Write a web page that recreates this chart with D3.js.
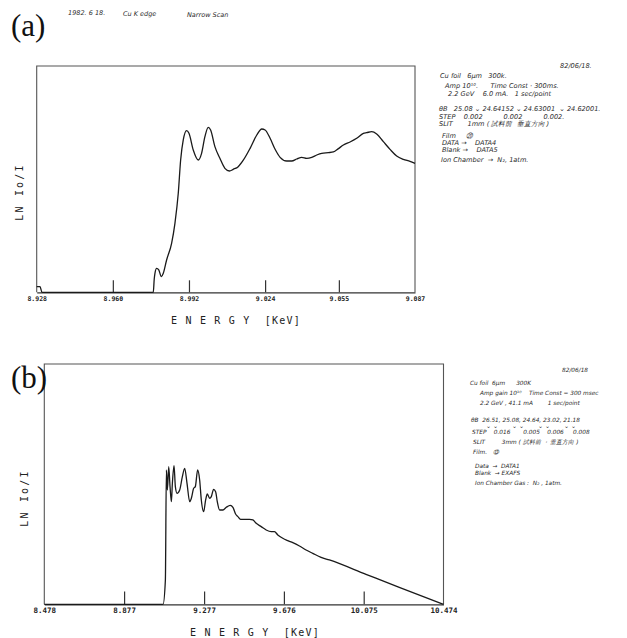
<!DOCTYPE html>
<html>
<head>
<meta charset="utf-8">
<script src="https://cdn.jsdelivr.net/npm/d3@7"></script>
<style>
  body { margin: 0; background: #fff; }
  svg { display: block; }
  .hand { font-family: "DejaVu Sans", sans-serif; font-style: italic; fill: #2a2a2a; }
</style>
</head>
<body>
<div id="chart"></div>
<script>
// Panel (a): Cu K-edge, narrow scan
const energyA = [8.928, 8.9294, 8.9302, 8.9770, 8.9774, 8.9777, 8.9784, 8.9793, 8.9804, 8.9812, 8.9826,
  8.9847, 8.9861, 8.9875, 8.9885, 8.9896, 8.9910, 8.9920, 8.9938, 8.9959, 8.9973, 8.9987, 9.0001,
  9.0011, 9.0029, 9.0050, 9.0071, 9.0090, 9.0106, 9.0127, 9.0149, 9.0177, 9.0205, 9.0226, 9.0240,
  9.0261, 9.0282, 9.0303, 9.0331, 9.0352, 9.0373, 9.0394, 9.0415, 9.0436, 9.0457, 9.0478, 9.0506,
  9.0527, 9.0548, 9.0569, 9.0597, 9.0625, 9.0653, 9.0667, 9.0688, 9.0709, 9.0737, 9.0765, 9.0793,
  9.0821, 9.0849, 9.087];
const absA = [0.17, 0.17, 0, 0, 0.40, 0.57, 0.72, 0.67, 0.47, 0.57, 0.97,
  1.47, 2.07, 2.97, 3.97, 4.57, 4.85, 4.77, 4.27, 3.97, 4.17, 4.67, 4.95,
  4.87, 4.37, 4.02, 3.72, 3.64, 3.69, 3.77, 3.97, 4.32, 4.72, 4.90, 4.87,
  4.62, 4.29, 4.05, 3.94, 3.94, 4.00, 4.05, 4.02, 4.05, 4.12, 4.17, 4.19,
  4.21, 4.31, 4.42, 4.51, 4.62, 4.77, 4.79, 4.82, 4.75, 4.52, 4.29, 4.09,
  3.99, 3.93, 3.87];
const ticksA = [8.928, 8.960, 8.992, 9.024, 9.055, 9.087];
const maxA = 6.79;

// Panel (b): Cu K-edge, wide scan (EXAFS)
const energyB = [8.478, 9.0718, 9.0834, 9.0884, 9.0934, 9.1001, 9.1067, 9.1134, 9.1184, 9.1267, 9.1333,
  9.1417, 9.1550, 9.1683, 9.1799, 9.1916, 9.2049, 9.2132, 9.2248, 9.2331, 9.2448, 9.2548,
  9.2631, 9.2747, 9.2847, 9.2930, 9.3047, 9.3130, 9.3246, 9.3346, 9.3429, 9.3546, 9.3712,
  9.3878, 9.4078, 9.4211, 9.4344, 9.4460, 9.4593, 9.4793, 9.5043, 9.5209, 9.5375, 9.5625,
  9.5874, 9.6124, 9.6290, 9.6456, 9.6706, 9.6955, 9.7205, 9.7538, 9.7870, 9.8203, 9.8619,
  9.9034, 10.0864, 10.2528, 10.474];
const absB = [0, 0, 0.73, 4.03, 3.43, 4.13, 3.53, 3.08, 3.63, 4.16, 3.53,
  3.33, 3.43, 3.83, 4.08, 3.63, 3.08, 3.18, 3.48, 3.53, 4.03, 3.73,
  3.13, 2.78, 3.13, 3.31, 3.18, 3.23, 3.45, 3.38, 3.08, 2.83, 2.83,
  2.91, 2.97, 2.91, 2.71, 2.63, 2.55, 2.55, 2.55, 2.53, 2.43, 2.33,
  2.23, 2.18, 2.18, 2.08, 1.98, 1.91, 1.85, 1.75, 1.63, 1.53, 1.41,
  1.33, 0.90, 0.51, 0];
const ticksB = [8.478, 8.877, 9.277, 9.676, 10.075, 10.474];
const maxB = 7.21;

// handwritten notes on the recorder sheets
const headerNotes = ["1982. 6 18.", "Cu K edge", "Narrow Scan"];
const notesA = ["82/06/18.", "Cu foil   6μm   300k.", "Amp 10¹⁰.      Time Const · 300ms.",
  "2.2 GeV    6.0 mA.   1 sec/point",
  "θB   25.08 ⌄ 24.64152 ⌄ 24.63001  ⌄ 24.62001.", "STEP    0.002          0.002          0.002.",
  "SLIT       1mm ( 試料前  垂直方向 )", "Film     ⑳", "DATA →    DATA4", "Blank →    DATA5",
  "Ion Chamber  →  N₂, 1atm."];
const notesB = ["82/06/18", "Cu foil  6μm      300K", "Amp gain 10¹⁰    Time Const = 300 msec",
  "2.2 GeV , 41.1 mA        1 sec/point", "θB  26.51, 25.08, 24.64, 23.02, 21.18",
  "STEP    0.016       0.005    0.006     0.008", "SLIT         3mm ( 試料前 ・ 垂直方向 )", "Film.   ⑬",
  "Data  →  DATA1", "Blank  → EXAFS", "Ion Chamber Gas :  N₂ , 1atm."];

const W = 627, H = 638;
const svg = d3.select("#chart").append("svg").attr("width", W).attr("height", H);

function drawPanel(o) {
  const x = d3.scaleLinear().domain([o.ticks[0], o.ticks[o.ticks.length - 1]]).range([o.left, o.right]);
  const y = d3.scaleLinear().domain([0, o.ymax]).range([o.bottom, o.top]);
  const g = svg.append("g");

  // frame (no bottom edge; the baseline is drawn by the axis)
  g.append("path")
    .attr("d", `M${o.left},${o.bottom}V${o.top}H${o.right}V${o.bottom}`)
    .attr("fill", "none").attr("stroke", "#555").attr("stroke-width", 1.1);

  const axis = d3.axisBottom(x).tickValues(o.ticks).tickSize(0).tickFormat(d3.format(".3f"));
  const ax = g.append("g").attr("transform", `translate(0,${o.bottom})`).call(axis);
  ax.select(".domain").attr("stroke", "#333").attr("stroke-width", 1.2);
  ax.selectAll(".tick text")
    .attr("dy", 0).attr("y", o.labelDy)
    .attr("font-family", "DejaVu Sans Mono, monospace")
    .attr("font-size", o.tickFont).attr("font-weight", "bold").attr("fill", "#222");
  ax.selectAll(".tick line").attr("y2", 0);
  // inner ticks point up into the plot
  ax.selectAll(".tick").filter((d, i) => i > 0 && i < o.ticks.length - 1)
    .append("line").attr("y1", 0).attr("y2", -o.tickLen).attr("stroke", "#333").attr("stroke-width", 1.2);

  const line = d3.line().x((d, i) => x(o.energy[i])).y(d => y(d)).curve(d3.curveMonotoneX);
  g.append("path").datum(o.abs).attr("d", line)
    .attr("fill", "none").attr("stroke", "#1a1a1a").attr("stroke-width", 1.3);

  g.append("text").attr("x", o.xLabelX).attr("y", o.xLabelY).attr("text-anchor", "middle")
    .attr("font-family", "DejaVu Sans Mono, monospace").attr("font-size", 10).attr("fill", "#222")
    .attr("letter-spacing", 1.2).style("white-space", "pre")
    .text("E N E R G Y  [KeV]");

  g.append("text").attr("transform", `translate(${o.yLabelX},${o.yLabelY}) rotate(-90)`)
    .attr("text-anchor", "middle").attr("dominant-baseline", "middle")
    .attr("font-family", "DejaVu Sans Mono, monospace").attr("font-size", 10).attr("fill", "#222")
    .attr("letter-spacing", 2.2).style("white-space", "pre")
    .text("LN Io/I");

  svg.append("text").attr("x", 11).attr("y", o.tagY)
    .attr("font-family", "Liberation Serif, serif").attr("font-size", 31).attr("fill", "#111")
    .text(o.tag);
}

drawPanel({ energy: energyA, abs: absA, ticks: ticksA, ymax: maxA,
  left: 36.7, right: 415, top: 66, bottom: 292.3, tickLen: 12, tickFont: 6.5, labelDy: 9,
  xLabelX: 236, xLabelY: 324, yLabelX: 20, yLabelY: 192, tag: "(a)", tagY: 36 });

drawPanel({ energy: energyB, abs: absB, ticks: ticksB, ymax: maxB,
  left: 44.3, right: 443.5, top: 364, bottom: 604.3, tickLen: 12.7, tickFont: 7.5, labelDy: 9,
  xLabelX: 255, xLabelY: 636, yLabelX: 25, yLabelY: 498, tag: "(b)", tagY: 388 });

// header handwriting
const headerX = [68, 123, 187];
headerNotes.forEach((t, i) => {
  svg.append("text").attr("class", "hand").attr("x", headerX[i]).attr("y", 15 + i)
    .attr("font-size", 6.5).text(t);
});

// side notes
function drawNotes(lines, xs, ys, size) {
  const g = svg.append("g");
  lines.forEach((t, i) => {
    g.append("text").attr("class", "hand").attr("x", xs[i]).attr("y", ys[i])
      .attr("font-size", size).style("white-space", "pre").text(t);
  });
}
drawNotes(notesA,
  [560, 440, 445, 448, 439, 439, 439, 442, 442, 442, 441],
  [68, 78, 88, 96, 111, 119, 126, 138, 145, 152, 162], 6.6);
drawNotes(notesB,
  [562, 470, 480, 480, 471, 472, 473, 473, 475, 475, 475],
  [372, 385, 395, 405, 422, 434, 444, 454, 468, 475, 485], 5.8);

// check marks between angles on the (b) sheet
const checksB = [0, 1, 2, 3];
svg.append("g").selectAll("text").data(checksB).join("text").attr("class", "hand")
  .attr("x", (d) => 486 + d * 26).attr("y", 428).attr("font-size", 6).text("⌄  ⌄");
</script>
</body>
</html>
